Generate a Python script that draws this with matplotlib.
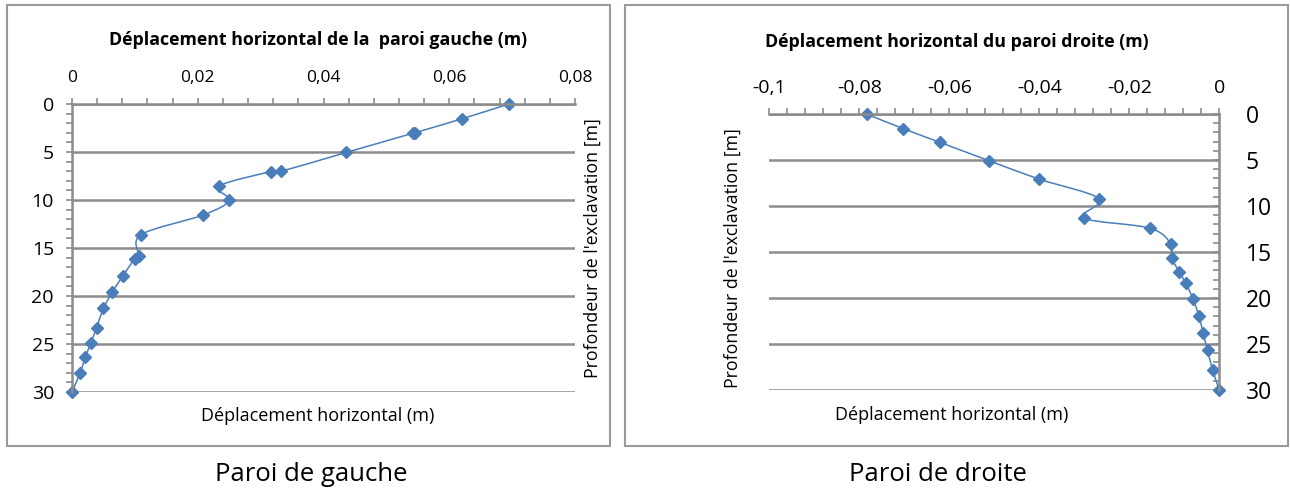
import matplotlib
matplotlib.use("Agg")
import matplotlib.pyplot as plt
import numpy as np
from matplotlib.path import Path
from matplotlib.patches import PathPatch, Rectangle
from matplotlib.ticker import FuncFormatter, MultipleLocator

plt.rcParams['font.family'] = ['Open Sans', 'DejaVu Sans']

# left wall: depth (m) and horizontal displacement (m)
depth_left = [0, 1.55, 3.0, 3.05, 5.05, 7.0, 7.05, 8.55, 10.05, 11.55, 13.6, 15.8, 16.1,
              17.9, 19.6, 21.3, 23.3, 24.9, 26.4, 28.0, 30.0]
disp_left = [0.0695, 0.0620, 0.0545, 0.0542, 0.0436, 0.0333, 0.0316, 0.0234, 0.0250, 0.0209,
             0.0110, 0.0106, 0.0100, 0.0081, 0.0064, 0.0050, 0.0039, 0.0030, 0.0021, 0.0013, 0.0]

# right wall
depth_right = [0, 1.6, 3.08, 5.07, 7.07, 9.2, 11.3, 12.4, 14.1, 15.6, 17.15, 18.35, 20.15,
               22.0, 23.8, 25.7, 27.8, 30.0]
disp_right = [-0.0784, -0.0702, -0.0621, -0.0512, -0.0401, -0.0267, -0.0301, -0.0155,
              -0.0108, -0.0106, -0.0089, -0.0075, -0.0058, -0.0045, -0.0036, -0.0026, -0.0015, 0.0]

W, H = 1290, 490
BLUE = '#4a7ebb'
GRAY = '#8c8c8c'


def fx(px):
    return px / W


def fy(py):
    return 1 - py / H


def comma(v, pos):
    s = ('%g' % round(v, 4)).replace('.', ',')
    return '0' if s in ('-0', '0') else s


def smooth_path(xs, ys, k=1 / 6):
    # Excel-like smoothed line: cubic bezier through the points
    pts = np.column_stack([xs, ys]).astype(float)
    n = len(pts)
    verts = [pts[0]]
    codes = [Path.MOVETO]
    for i in range(n - 1):
        p0 = pts[max(i - 1, 0)]
        p1 = pts[i]
        p2 = pts[i + 1]
        p3 = pts[min(i + 2, n - 1)]
        c1 = p1 + (p2 - p0) * k
        c2 = p2 - (p3 - p1) * k
        verts += [c1, c2, p2]
        codes += [Path.CURVE4] * 3
    return Path(verts, codes)


fig = plt.figure(figsize=(W / 100, H / 100), dpi=100)

# chart frames
fig.patches.append(Rectangle((fx(7), fy(446)), fx(610) - fx(7), fy(5) - fy(446),
                             transform=fig.transFigure, fill=False, ec='#9a9a9a', lw=1.5))
fig.patches.append(Rectangle((fx(625), fy(446)), fx(1288) - fx(625), fy(5) - fy(446),
                             transform=fig.transFigure, fill=False, ec='#9a9a9a', lw=1.5))


def setup(ax, xlim, side):
    ax.set_xlim(*xlim)
    ax.set_ylim(30, 0)
    ax.xaxis.tick_top()
    ax.xaxis.set_major_locator(MultipleLocator(0.02))
    ax.xaxis.set_minor_locator(MultipleLocator(0.004))
    ax.yaxis.set_major_locator(MultipleLocator(5))
    ax.yaxis.set_minor_locator(MultipleLocator(1))
    ax.xaxis.set_major_formatter(FuncFormatter(comma))
    for s in ax.spines.values():
        s.set_visible(False)
    ax.spines['top'].set_visible(True)
    ax.spines['top'].set_color(GRAY)
    ax.spines['top'].set_linewidth(1.8)
    ax.spines[side].set_visible(True)
    ax.spines[side].set_color(GRAY)
    ax.spines[side].set_linewidth(1.8)
    ax.grid(axis='y', which='major', color=GRAY, lw=1.8)
    ax.set_axisbelow(True)
    ax.tick_params(axis='x', which='both', direction='out', length=4, width=1.2, color=GRAY,
                   top=True, bottom=False)
    ax.set_facecolor('none')


# left chart
ax1 = fig.add_axes([fx(72), fy(392), fx(575) - fx(72), fy(104) - fy(392)])
setup(ax1, (0, 0.08), 'left')
ax1.tick_params(axis='x', labelsize=12.5, pad=9)
ax1.tick_params(axis='y', which='both', direction='out', length=4, width=1.2, color=GRAY,
                labelsize=14, pad=9)
ax1.add_patch(PathPatch(smooth_path(disp_left, depth_left), fill=False, ec=BLUE, lw=1.1))
ax1.plot(disp_left, depth_left, ls='none', marker='D', ms=6, color=BLUE, clip_on=False)

fig.text(fx(318), fy(40), 'Déplacement horizontal de la  paroi gauche (m)', ha='center',
         va='center', fontsize=12.8, fontweight='bold')
fig.text(fx(318), fy(416), 'Déplacement horizontal (m)', ha='center', va='center', fontsize=13)
fig.text(fx(593), fy(248), "Profondeur de l'exclavation [m]", ha='center', va='center',
         rotation=90, fontsize=12.8)

# right chart
ax2 = fig.add_axes([fx(769.3), fy(390), fx(1219.3) - fx(769.3), fy(114) - fy(390)])
setup(ax2, (-0.1, 0), 'right')
ax2.yaxis.tick_right()
ax2.tick_params(axis='x', labelsize=14, pad=8)
ax2.tick_params(axis='y', which='both', direction='in', length=4, width=1.2, color=GRAY,
                labelsize=16.5, pad=19, left=False, right=True)
ax2.add_patch(PathPatch(smooth_path(disp_right, depth_right), fill=False, ec=BLUE, lw=1.1))
ax2.plot(disp_right, depth_right, ls='none', marker='D', ms=6, color=BLUE, clip_on=False)

fig.text(fx(957), fy(42), 'Déplacement horizontal du paroi droite (m)', ha='center',
         va='center', fontsize=12.8, fontweight='bold')
fig.text(fx(952), fy(415), 'Déplacement horizontal (m)', ha='center', va='center', fontsize=13)
fig.text(fx(733), fy(258), "Profondeur de l'exclavation [m]", ha='center', va='center',
         rotation=90, fontsize=12.8)

# captions under the charts
fig.text(fx(311), fy(474), 'Paroi de gauche', ha='center', va='center', fontsize=18.5)
fig.text(fx(938), fy(474), 'Paroi de droite', ha='center', va='center', fontsize=18.5)

fig.savefig('out.png', dpi=100)
